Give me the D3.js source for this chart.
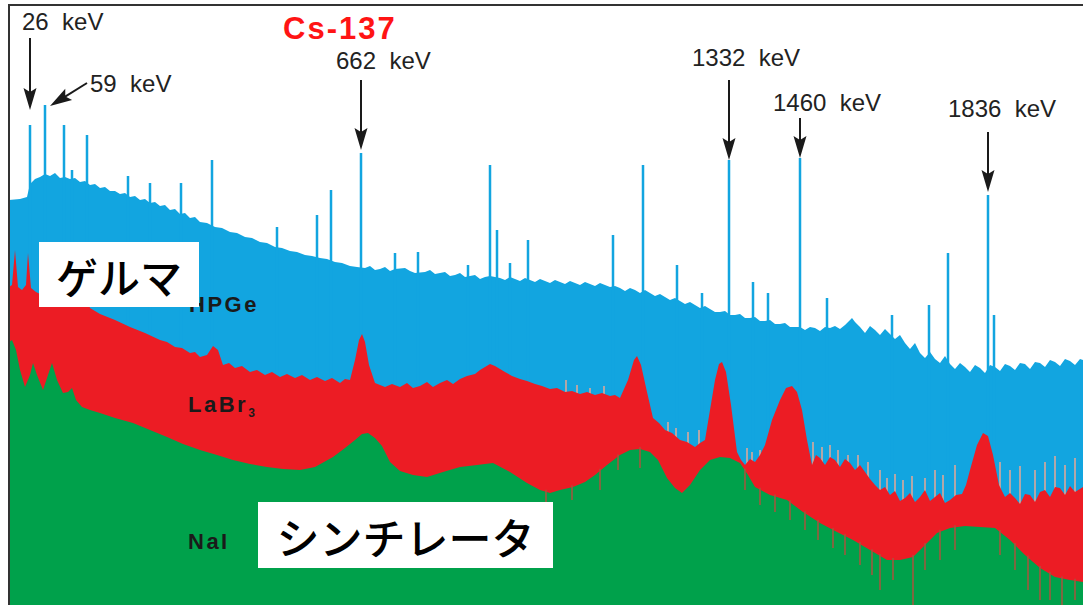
<!DOCTYPE html>
<html>
<head>
<meta charset="utf-8">
<script src="https://cdn.jsdelivr.net/npm/d3@7/dist/d3.min.js"></script>
<style>
  body { margin: 0; background: #fff; }
  svg { display: block; }
</style>
</head>
<body>
<svg id="chart" width="1083" height="605"></svg>
<script>
// x = channel, y = log counts (arbitrary units)
const hpgeEdge = [[0,405],[11,406],[18,408],[21,421],[26,426],[31,428],[36,431],[41,429],[46,432],[51,427],[56,428],[61,426],[66,427],[71,423],[76,424],[81,420],[86,421],[91,417],[96,418],[101,414],[106,414],[111,411],[116,412],[121,408],[126,409],[131,405],[136,406],[141,402],[146,403],[151,399],[156,400],[161,395],[166,396],[171,391],[176,392],[181,387],[186,388],[191,383],[198,382],[206,378],[213,377],[221,373],[228,372],[236,368],[243,367],[251,363],[258,362],[266,358],[273,357],[281,354],[288,353],[296,350],[303,349],[311,347],[318,346],[326,343],[333,342],[341,339],[348,338],[356,337],[361,339],[366,335],[371,336],[376,338],[381,334],[386,336],[396,337],[401,334],[406,332],[416,333],[421,335],[426,331],[431,332],[436,333],[441,329],[446,330],[451,332],[456,328],[461,329],[466,330],[471,326],[476,328],[481,329],[491,327],[496,325],[501,328],[506,326],[511,324],[516,327],[521,325],[526,323],[531,326],[536,324],[541,322],[546,325],[551,323],[556,321],[561,324],[566,322],[571,320],[576,323],[581,321],[586,319],[591,322],[596,320],[601,318],[606,319],[611,317],[616,314],[621,317],[626,315],[631,312],[636,315],[641,312],[646,309],[651,311],[656,308],[661,305],[666,307],[671,304],[676,301],[681,303],[686,300],[691,297],[696,299],[701,296],[706,293],[711,293],[716,294],[721,290],[726,290],[731,291],[736,287],[741,287],[746,288],[751,284],[756,284],[761,285],[766,281],[771,281],[776,282],[781,278],[786,278],[791,278],[796,275],[801,278],[806,277],[811,274],[816,278],[821,277],[826,279],[831,276],[836,280],[843,287],[846,283],[851,278],[856,272],[861,279],[866,275],[871,270],[876,276],[881,271],[886,266],[891,270],[896,262],[901,256],[906,262],[911,252],[916,247],[921,253],[926,246],[931,242],[936,249],[941,241],[946,236],[951,242],[956,238],[961,233],[966,240],[971,237],[976,232],[981,240],[986,238],[991,234],[996,241],[1001,239],[1006,235],[1011,242],[1016,241],[1021,236],[1026,243],[1031,242],[1036,238],[1041,245],[1046,243],[1051,239],[1056,246],[1061,244],[1066,240],[1071,246],[1074,245]];
const hpgeLines = [[21,480],[36,500],[55,480],[63,435],[78,470],[119,429],[141,422],[172,422],[203,445],[268,378],[308,390],[322,415],[352,452],[386,352],[409,353],[459,340],[481,440],[488,375],[501,342],[519,365],[604,370],[634,440],[668,340],[693,312],[720,445],[744,323],[759,312],[791,447],[818,307],[883,290],[920,300],[939,352],[979,410],[985,290]];

const labrEdge = [[0,318],[3,320],[6,355],[9,318],[13,315],[17,320],[19,352],[22,317],[27,313],[31,311],[41,308],[51,305],[61,302],[71,299],[78,305],[81,297],[91,291],[106,285],[121,278],[136,272],[151,265],[158,263],[166,258],[173,257],[181,252],[186,253],[191,248],[198,250],[204,259],[209,255],[214,240],[220,242],[226,237],[233,239],[241,233],[248,235],[256,230],[263,233],[271,228],[278,231],[286,227],[293,230],[301,225],[308,228],[316,224],[323,227],[331,222],[336,226],[341,225],[346,245],[350,265],[353,271],[356,263],[360,240],[366,222],[371,220],[376,218],[383,221],[391,218],[398,222],[404,217],[411,219],[418,223],[424,218],[431,222],[438,225],[444,221],[451,226],[458,229],[466,231],[471,235],[476,238],[481,241],[486,239],[491,236],[496,233],[503,229],[511,226],[518,224],[526,221],[533,219],[541,216],[548,217],[556,213],[563,214],[571,211],[578,213],[586,210],[593,212],[601,209],[606,210],[611,207],[619,225],[625,245],[628,249],[632,240],[638,213],[644,187],[650,182],[656,175],[663,172],[671,165],[678,163],[686,158],[691,162],[696,165],[701,195],[706,225],[710,241],[713,243],[717,233],[722,200],[728,153],[732,145],[736,140],[741,146],[746,143],[751,150],[756,160],[763,185],[771,205],[777,217],[783,219],[788,213],[793,195],[798,165],[803,140],[807,150],[811,147],[816,140],[821,148],[826,145],[831,138],[836,146],[841,142],[846,135],[851,140],[856,133],[861,126],[866,120],[871,115],[876,118],[881,110],[886,114],[891,104],[896,107],[901,112],[906,103],[911,108],[916,115],[921,104],[926,108],[931,112],[936,102],[941,105],[947,110],[953,111],[957,120],[961,135],[968,160],[974,172],[979,169],[984,150],[990,120],[996,108],[1001,112],[1006,107],[1011,101],[1016,111],[1021,110],[1026,103],[1031,113],[1036,115],[1041,108],[1046,118],[1051,117],[1056,110],[1061,119],[1066,113],[1074,118]];
const labrLines = [[557,225],[568,220],[581,217],[595,219],[659,183],[667,177],[679,173],[690,175],[738,157],[743,153],[751,155],[804,163],[813,158],[821,160],[829,155],[839,150],[849,150],[859,143],[871,135],[878,127],[886,131],[894,125],[903,129],[916,127],[926,135],[934,130],[946,140],[991,143],[1001,135],[1011,139],[1026,135],[1036,143],[1046,149],[1056,140],[1066,147]];

const naiEdge = [[0,263],[3,265],[7,255],[11,235],[16,218],[21,230],[24,242],[28,230],[34,215],[39,230],[43,242],[48,225],[54,212],[59,213],[63,217],[67,205],[73,198],[81,195],[91,192],[106,187],[124,182],[141,175],[158,168],[174,161],[191,155],[208,150],[224,145],[241,141],[258,138],[274,136],[291,135],[306,138],[324,148],[336,157],[346,165],[353,171],[359,172],[366,167],[373,159],[381,143],[391,134],[404,130],[418,128],[434,133],[451,138],[468,140],[484,142],[501,133],[518,122],[531,115],[541,112],[551,115],[564,118],[576,123],[586,130],[598,140],[611,150],[621,155],[631,156],[641,153],[649,145],[658,127],[666,117],[673,112],[681,120],[691,135],[701,145],[711,148],[721,147],[731,142],[739,130],[746,118],[761,110],[778,105],[794,93],[811,82],[828,73],[844,65],[861,55],[878,45],[891,45],[904,48],[916,60],[928,72],[941,77],[956,79],[971,78],[986,77],[1001,65],[1016,50],[1031,37],[1046,28],[1061,25],[1074,23]];
const naiDips = [[537,100],[563,105],[591,115],[609,135],[631,137],[736,115],[751,100],[766,93],[781,85],[796,75],[809,65],[824,57],[836,50],[851,40],[863,30],[871,15],[884,25],[904,0],[916,35],[931,45],[946,55],[991,50],[1006,35],[1019,15],[1031,5],[1041,5],[1053,0],[1066,5]];

const peakLabels = ["26  keV", "59  keV", "662  keV", "1332  keV", "1460  keV", "1836  keV"];
const peakChannels = [21, 36, 352, 720, 791, 979];

const svg = d3.select("#chart");
const x = d3.scaleLinear().domain([0, 1074]).range([9, 1083]);
const y = d3.scaleLinear().domain([0, 600]).range([605, 5]);

svg.append("defs").append("clipPath").attr("id", "plot")
  .append("rect").attr("x", 9).attr("y", 5).attr("width", 1074).attr("height", 600);

const plot = svg.append("g").attr("clip-path", "url(#plot)");

const area = d3.area()
  .x(d => x(d[0]))
  .y0(y(0))
  .y1(d => y(d[1]));

//HPGe
plot.append("path").datum(hpgeEdge).attr("d", area).attr("fill", "#12a5e0");
plot.selectAll(".hpge-line").data(hpgeLines).enter().append("line")
  .attr("x1", d => x(d[0])).attr("x2", d => x(d[0]))
  .attr("y1", d => y(d[1])).attr("y2", y(0))
  .attr("stroke", "#12a5e0").attr("stroke-width", 2.5);

//LaBr3
plot.selectAll(".labr-line").data(labrLines).enter().append("line")
  .attr("x1", d => x(d[0])).attr("x2", d => x(d[0]))
  .attr("y1", d => y(d[1])).attr("y2", y(0))
  .attr("stroke", "#e9a896").attr("stroke-width", 1.5);
plot.append("path").datum(labrEdge).attr("d", area).attr("fill", "#ec1c24");

//NaI
plot.append("path").datum(naiEdge).attr("d", area).attr("fill", "#00a14b");
const bisect = d3.bisector(d => d[0]).left;
function naiAt(c) {
  const i = Math.max(1, bisect(naiEdge, c));
  const a = naiEdge[i - 1], b = naiEdge[i];
  return a[1] + (b[1] - a[1]) * (c - a[0]) / (b[0] - a[0]);
}
plot.selectAll(".nai-dip").data(naiDips).enter().append("line")
  .attr("x1", d => x(d[0])).attr("x2", d => x(d[0]))
  .attr("y1", d => y(naiAt(d[0])) - 2).attr("y2", d => y(d[1]))
  .attr("stroke", "#a8553c").attr("stroke-width", 1.5);

// detector names
const names = svg.append("g").attr("font-family", "Liberation Sans, Arial, sans-serif")
  .attr("font-weight", "bold").attr("font-size", 22).attr("letter-spacing", 2.5).attr("fill", "#1a1a1a");
names.append("text").attr("x", 189).attr("y", 312).text("HPGe");
const lab = names.append("text").attr("x", 188).attr("y", 412).text("LaBr");
lab.append("tspan").attr("font-size", 12).attr("dy", 5).text("3");
names.append("text").attr("x", 188).attr("y", 549).text("NaI");

// white boxes with Japanese captions
const boxes = [
  {text: "ゲルマ", x: 39, y: 242, w: 160, h: 65, size: 42},
  {text: "シンチレータ", x: 258, y: 502, w: 295, h: 66, size: 43}
];
boxes.forEach(b => {
  svg.append("rect").attr("x", b.x).attr("y", b.y).attr("width", b.w).attr("height", b.h).attr("fill", "#fff");
  svg.append("text").attr("x", b.x + b.w / 2).attr("y", b.y + b.h / 2 + 1)
    .attr("text-anchor", "middle").attr("dominant-baseline", "central")
    .attr("font-family", "Noto Sans CJK JP, sans-serif").attr("font-size", b.size)
    .attr("font-weight", 500).attr("fill", "#000").text(b.text);
});

// frame
svg.append("line").attr("x1", 8).attr("x2", 1083).attr("y1", 5).attr("y2", 5).attr("stroke", "#333").attr("stroke-width", 2);
svg.append("line").attr("x1", 9).attr("x2", 9).attr("y1", 5).attr("y2", 605).attr("stroke", "#333").attr("stroke-width", 2);

// peak labels and arrows
const layout = [
  {tx: 22, ty: 30, sx: 0, sy: 38, ex: 0, ey: 110},
  {tx: 90, ty: 92, sx: 87, sy: 83, ex: 5, ey: 106},
  {tx: 336, ty: 69, sx: 0, sy: 80, ex: 0, ey: 150},
  {tx: 692, ty: 66, sx: 0, sy: 80, ex: 0, ey: 160},
  {tx: 773, ty: 111, sx: 0, sy: 118, ex: 0, ey: 158},
  {tx: 948, ty: 117, sx: 0, sy: 132, ex: 0, ey: 192}
];
const ann = svg.append("g");
peakLabels.forEach((label, i) => {
  const L = layout[i];
  const px = x(peakChannels[i]);
  const x1 = L.sx ? L.sx : px, y1 = L.sy;
  const x2 = px + L.ex, y2 = L.ey;
  const ang = Math.atan2(y2 - y1, x2 - x1) * 180 / Math.PI - 90;
  const len = Math.hypot(x2 - x1, y2 - y1);
  const g = ann.append("g").attr("transform", `translate(${x1},${y1}) rotate(${ang})`);
  g.append("line").attr("x1", 0).attr("y1", 0).attr("x2", 0).attr("y2", len - 15)
    .attr("stroke", "#1a1a1a").attr("stroke-width", 2);
  g.append("path").attr("d", `M0,${len} L-6.5,${len - 22} L0,${len - 18} L6.5,${len - 22} Z`).attr("fill", "#1a1a1a");
  ann.append("text").attr("x", L.tx).attr("y", L.ty)
    .attr("font-family", "Liberation Sans, Arial, sans-serif").attr("font-size", 24)
    .attr("fill", "#222").style("white-space", "pre").text(label);
});

svg.append("text").attr("x", 283).attr("y", 39)
  .attr("font-family", "Liberation Sans, Arial, sans-serif").attr("font-weight", "bold")
  .attr("font-size", 31).attr("letter-spacing", 2).attr("fill", "#ff1414").text("Cs-137");
</script>
</body>
</html>
